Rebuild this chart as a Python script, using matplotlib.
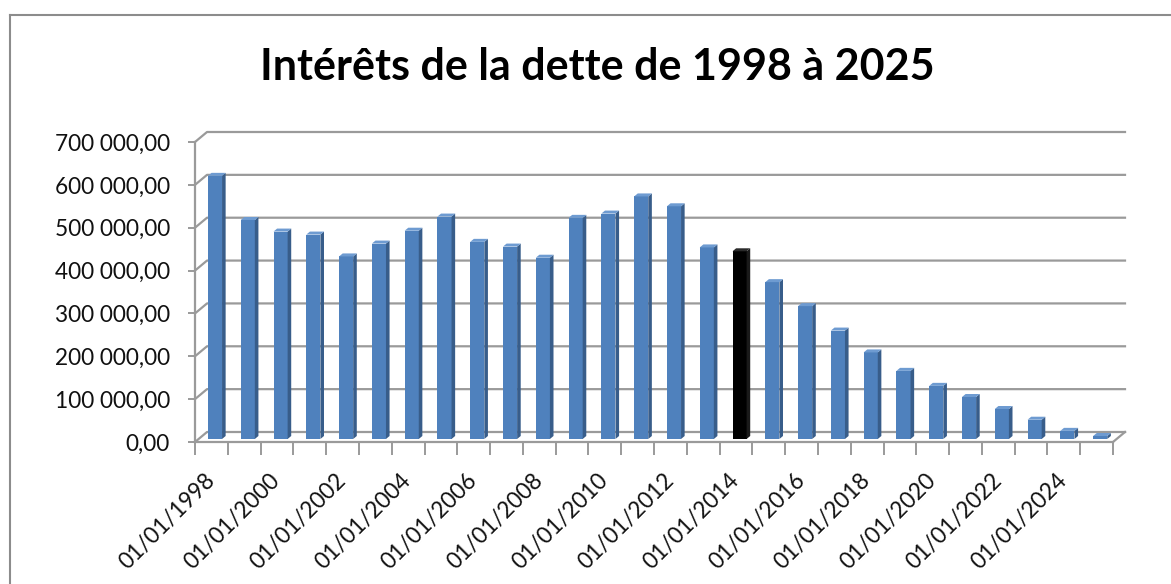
import matplotlib.pyplot as plt
import matplotlib.lines as mlines
import numpy as np
from matplotlib.ticker import FuncFormatter, FixedLocator

# data (interest per year)
years = list(range(1998, 2026))
interets = [614000, 511000, 484000, 477000, 426000, 456000, 486000, 519000,
            460000, 449000, 423000, 516000, 526000, 566000, 543000, 447000,
            438000, 366000, 310000, 253000, 202000, 159000, 124000, 98000,
            70000, 45000, 19000, 7000]
highlight_year = 2014
yticks = [0, 100000, 200000, 300000, 400000, 500000, 600000, 700000]
xlabels = ["01/01/%d" % y for y in years]

plt.rcParams['font.family'] = ['Lato', 'DejaVu Sans']

fig = plt.figure(figsize=(11.71, 5.84), dpi=100)
ax = fig.add_axes([195/1171, 1 - 442/584, 918/1171, 300/584])

n = len(years)
x = np.arange(n)
ax.set_xlim(-0.5, n - 0.5)
ax.set_ylim(0, 700000)

# fake 3D depth (in data units)
DX = 0.366
DY = 23333
grid_col = '#9a9a9a'

# back wall gridlines + left wall slants
for v in yticks:
    ax.plot([-0.5, -0.5 + DX, n - 0.5 + DX], [v, v + DY, v + DY],
            color=grid_col, lw=1.6, clip_on=False, zorder=1)
# floor right edge
ax.plot([n - 0.5, n - 0.5 + DX], [0, DY], color=grid_col, lw=1.6, clip_on=False, zorder=1)

# bars
f = 0.3
w = 0.43
s = 0.3
for i, (yr, v) in enumerate(zip(years, interets)):
    if yr == highlight_year:
        front, side, top = '#000000', '#1a1a1a', '#2a2a2a'
    else:
        front, side, top = '#4f81bd', '#385d8a', '#6e9bd1'
    left = i + f * DX - w / 2
    right = left + w
    b = f * DY
    ax.bar(left + w / 2, v, width=w, bottom=b, color=front, zorder=3)
    ax.fill([right, right + s * DX, right + s * DX, right],
            [b, b + s * DY, b + v + s * DY, b + v], color=side, zorder=3, lw=0)
    ax.fill([left, right, right + s * DX, left + s * DX],
            [b + v, b + v, b + v + s * DY, b + v + s * DY], color=top, zorder=3, lw=0)

# spines
for sp in ['top', 'right']:
    ax.spines[sp].set_visible(False)
ax.spines['left'].set_color(grid_col)
ax.spines['bottom'].set_color(grid_col)
ax.spines['left'].set_linewidth(1.6)
ax.spines['bottom'].set_linewidth(1.6)

ax.set_yticks(yticks)
ax.yaxis.set_major_formatter(FuncFormatter(
    lambda v, p: ("{:,.2f}".format(v)).replace(",", " ").replace(".", ",")))
ax.tick_params(axis='y', length=5, width=1.4, color=grid_col, pad=13,
               labelsize=16.3, labelcolor='#111111')

ax.xaxis.set_major_locator(FixedLocator(x[::2]))
ax.set_xticklabels(xlabels[::2])
ax.xaxis.set_minor_locator(FixedLocator(np.arange(-0.5, n, 1.0)))
ax.tick_params(axis='x', which='major', length=0, pad=25, labelsize=16.3,
               labelcolor='#111111')
ax.tick_params(axis='x', which='minor', length=9, width=1.4, color=grid_col)
for lab in ax.get_xticklabels():
    lab.set_rotation(45)
    lab.set_ha('right')
    lab.set_va('center')
    lab.set_rotation_mode('anchor')

fig.text(0.51, 1 - 67/584, "Intérêts de la dette de 1998 à 2025",
         ha='center', va='center', fontsize=31, fontweight='bold', color='#000000')

# chart frame (left and top edges visible)
fig.add_artist(mlines.Line2D([10/1171, 10/1171], [0, 1 - 15/584], color='#8c8c8c', lw=1.5))
fig.add_artist(mlines.Line2D([10/1171, 1], [1 - 15/584, 1 - 15/584], color='#8c8c8c', lw=1.5))

plt.savefig("out.png", dpi=100)
